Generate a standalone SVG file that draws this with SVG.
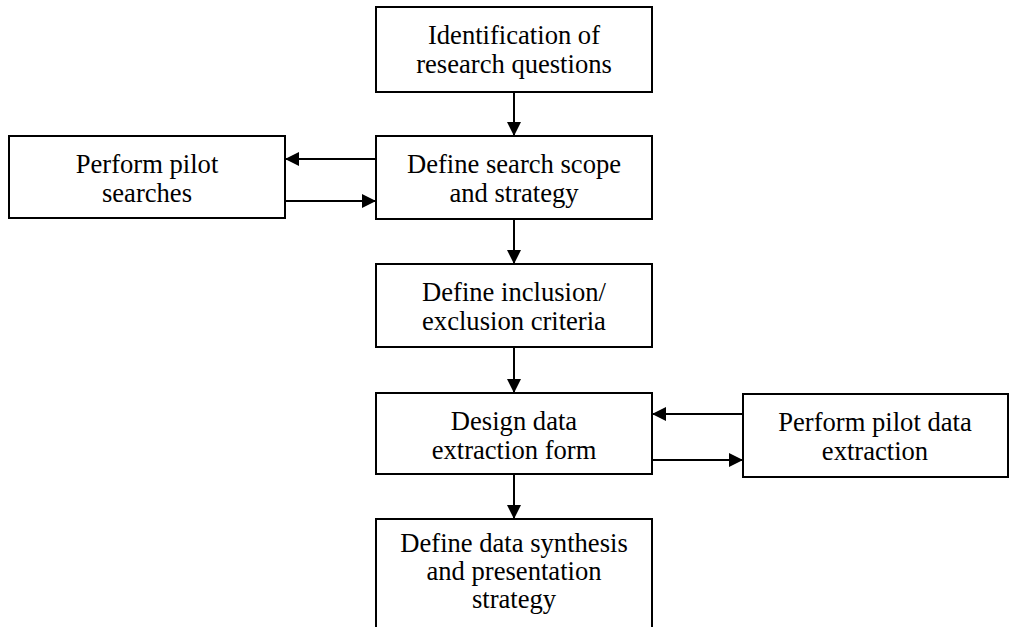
<svg xmlns="http://www.w3.org/2000/svg" width="1009" height="627" viewBox="0 0 1009 627">
<style>
.box{fill:#fff;stroke:#000;stroke-width:2}
.t{font-family:"Liberation Serif","Times New Roman",serif;font-size:26.6px;fill:#000;text-anchor:middle}
.c{stroke:#000;stroke-width:2;fill:none;marker-end:url(#ah)}
</style>
<defs>
<marker id="ah" viewBox="0 0 14 14" refX="14" refY="7" markerWidth="14" markerHeight="14" markerUnits="userSpaceOnUse" orient="auto">
<path d="M0,0 L14,7 L0,14 Z" fill="#000"/>
</marker>
</defs>
<rect width="1009" height="627" fill="#fff"/>
<g id="connectors">
<line class="c" x1="514" y1="92" x2="514" y2="136"/>
<line class="c" x1="376" y1="159" x2="285" y2="159"/>
<line class="c" x1="285" y1="201" x2="376" y2="201"/>
<line class="c" x1="514" y1="219" x2="514" y2="264"/>
<line class="c" x1="514" y1="347" x2="514" y2="393"/>
<line class="c" x1="743" y1="414" x2="652" y2="414"/>
<line class="c" x1="652" y1="460" x2="743" y2="460"/>
<line class="c" x1="514" y1="474" x2="514" y2="519"/>
</g>
<g id="n1">
<rect class="box" x="376" y="7" width="276" height="85"/>
<text class="t" x="514" y="44">Identification of</text>
<text class="t" x="514" y="73">research questions</text>
</g>
<g id="n2">
<rect class="box" x="376" y="136" width="276" height="83"/>
<text class="t" x="514" y="173">Define search scope</text>
<text class="t" x="514" y="202">and strategy</text>
</g>
<g id="n3">
<rect class="box" x="9" y="136" width="276" height="82"/>
<text class="t" x="147" y="173">Perform pilot</text>
<text class="t" x="147" y="202">searches</text>
</g>
<g id="n4">
<rect class="box" x="376" y="264" width="276" height="83"/>
<text class="t" x="514" y="301">Define inclusion/</text>
<text class="t" x="514" y="330">exclusion criteria</text>
</g>
<g id="n5">
<rect class="box" x="376" y="393" width="276" height="81"/>
<text class="t" x="514" y="430">Design data</text>
<text class="t" x="514" y="459">extraction form</text>
</g>
<g id="n6">
<rect class="box" x="743" y="394" width="265" height="83"/>
<text class="t" x="875" y="431">Perform pilot data</text>
<text class="t" x="875" y="460">extraction</text>
</g>
<g id="n7">
<rect class="box" x="376" y="519" width="276" height="120"/>
<text class="t" x="514" y="552">Define data synthesis</text>
<text class="t" x="514" y="580">and presentation</text>
<text class="t" x="514" y="608">strategy</text>
</g>
</svg>
